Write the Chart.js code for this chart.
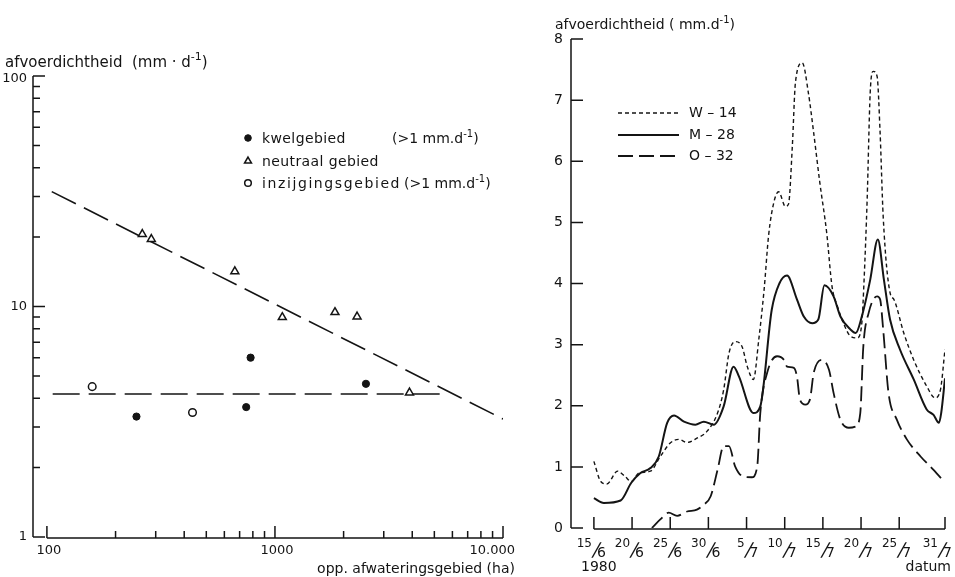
<!DOCTYPE html>
<html><head><meta charset="utf-8">
<script src="https://cdn.jsdelivr.net/npm/chart.js@4/dist/chart.umd.min.js"></script>
<style>
html,body{margin:0;padding:0;background:#fff;}
#wrap{position:relative;width:955px;height:577px;overflow:hidden;}
#c1{position:absolute;left:0;top:0;}
#c2{position:absolute;left:520px;top:0;}
</style></head><body>
<div id="wrap">
<canvas id="c1" width="520" height="577"></canvas>
<canvas id="c2" width="435" height="577"></canvas>
</div>
<script>
// ---------- LEFT PANEL DATA ----------
const kwelArea = [247, 782, 748, 2506];
const kwelValue = [3.33, 6.0, 3.66, 4.62];
const neutraalArea = [262, 287, 667, 1077, 1833, 2291, 3890];
const neutraalValue = [20.6, 19.6, 14.2, 8.98, 9.44, 9.04, 4.23];
const inzijgingArea = [158, 435];
const inzijgingValue = [4.49, 3.47];
const trendArea = [105, 10000];
const trendValue = [31.5, 3.25];
const levelArea = [106, 5500];
const levelValue = [4.17, 4.17];
const leftXTicks = [100,200,300,400,500,600,700,800,900,1000,2000,3000,4000,5000,6000,7000,8000,9000,10000];
const leftXMajor = [100, 1000, 10000];
const leftXLabels = ['100', '1000', '10.000'];
const leftYTicks = [1,2,3,4,5,6,7,8,9,10,20,30,40,50,60,70,80,90,100];
const leftYMajor = [1, 10, 100];
const leftYLabels = ['1', '10', '100'];
const legendLeft = ['kwelgebied', 'neutraal gebied', 'inzijgingsgebied'];

// ---------- RIGHT PANEL DATA ----------
// day 0 = 15/6/1980
const w14Days = [0, 0.9, 1.7, 3.1, 4.1, 4.9, 5.9, 7.4, 8.7, 10.0, 11.1, 12.2, 13.5, 14.8, 16.2, 17.0, 17.7, 18.5, 19.4, 20.1, 20.9, 21.6, 22.3, 22.9, 23.6, 24.2, 25.1, 25.5, 26.0, 26.4, 27.3, 28.1, 28.8, 29.6, 30.5, 31.2, 31.9, 32.7, 33.6, 34.5, 35.1, 35.4, 35.8, 36.2, 36.6, 37.1, 37.5, 37.9, 38.8, 39.3, 40.6, 41.9, 43.6, 44.7, 45.4, 46];
const w14Values = [1.09, 0.76, 0.72, 0.93, 0.84, 0.76, 0.90, 0.93, 1.17, 1.39, 1.45, 1.40, 1.47, 1.58, 1.88, 2.26, 2.86, 3.05, 2.97, 2.64, 2.43, 3.08, 3.90, 4.80, 5.34, 5.50, 5.26, 5.30, 6.25, 7.28, 7.61, 7.12, 6.46, 5.65, 4.83, 3.95, 3.63, 3.35, 3.14, 3.11, 3.35, 4.06, 5.37, 7.12, 7.47, 7.39, 6.46, 5.10, 3.85, 3.74, 3.19, 2.75, 2.32, 2.13, 2.26, 2.92];
const m28Days = [0, 1.3, 3.5, 4.9, 6.1, 7.4, 8.5, 9.6, 10.5, 11.8, 13.3, 14.4, 15.7, 17.0, 18.3, 19.0, 20.9, 21.8, 23.3, 24.3, 25.3, 26.6, 27.5, 28.6, 29.4, 30.2, 31.4, 32.3, 33.6, 34.3, 35.1, 36.2, 37.2, 38.0, 38.8, 40.1, 41.9, 43.6, 44.5, 45.2, 45.5, 46];
const m28Values = [0.49, 0.41, 0.45, 0.74, 0.90, 0.98, 1.17, 1.72, 1.84, 1.74, 1.69, 1.74, 1.69, 1.99, 2.64, 2.48, 1.88, 1.99, 3.57, 4.0, 4.13, 3.74, 3.46, 3.35, 3.41, 3.97, 3.79, 3.46, 3.25, 3.19, 3.46, 4.06, 4.72, 4.06, 3.41, 2.92, 2.43, 1.94, 1.85, 1.72, 1.88, 2.45];
const o32Days = [7.6, 8.7, 9.8, 10.9, 12.2, 13.5, 14.4, 15.3, 16.2, 17.0, 17.7, 18.5, 19.6, 20.7, 21.4, 21.8, 22.7, 24.0, 24.9, 25.3, 26.2, 26.6, 27.0, 27.7, 28.3, 28.8, 29.9, 30.8, 31.4, 32.3, 33.4, 34.3, 34.9, 35.3, 36.0, 37.1, 37.5, 37.9, 38.6, 39.7, 41.0, 42.8, 44.5, 46];
const o32Values = [0, 0.14, 0.25, 0.20, 0.27, 0.30, 0.38, 0.52, 0.95, 1.34, 1.34, 1.01, 0.84, 0.83, 1.01, 1.88, 2.54, 2.81, 2.75, 2.64, 2.62, 2.48, 2.10, 2.02, 2.10, 2.54, 2.75, 2.59, 2.21, 1.77, 1.64, 1.66, 1.88, 2.97, 3.52, 3.79, 3.74, 3.25, 2.21, 1.77, 1.45, 1.17, 0.95, 0.74];
const rightXTicks = [0, 5, 10, 15, 20, 25, 30, 35, 40, 46];
const rightXNum = ['15', '20', '25', '30', '5', '10', '15', '20', '25', '31'];
const rightXDen = ['6', '6', '6', '6', '7', '7', '7', '7', '7', '7'];
const rightYTicks = [0, 1, 2, 3, 4, 5, 6, 7, 8];
const seriesNames = ['W – 14', 'M – 28', 'O – 32'];

const INK = '#141414';
const FAM = "'DejaVu Sans'";
function f(sz){ return sz + 'px ' + FAM; }

function rich(ctx, x, y, parts, size, align){
  // parts: [text, sup?]
  let w = 0;
  const sup = Math.round(size*0.72);
  parts.forEach(p => { ctx.font = f(p[1] ? sup : size); w += ctx.measureText(p[0]).width; });
  let cx = align === 'right' ? x - w : x;
  ctx.textAlign = 'left';
  ctx.textBaseline = 'alphabetic';
  parts.forEach(p => {
    ctx.font = f(p[1] ? sup : size);
    ctx.fillText(p[0], cx, p[1] ? y - size*0.45 : y);
    cx += ctx.measureText(p[0]).width;
  });
}
function zip(a, b){ return a.map((v, i) => ({x: v, y: b[i]})); }

// ---------- LEFT CHART ----------
const leftPlugin = {
  id: 'leftAxes',
  beforeDatasetsDraw(chart){
    const ctx = chart.ctx, xs = chart.scales.x, ys = chart.scales.y, ca = chart.chartArea;
    ctx.save();
    ctx.strokeStyle = INK; ctx.lineWidth = 1.5; ctx.lineCap = 'butt';
    ctx.beginPath();
    ctx.moveTo(ca.left, ys.getPixelForValue(100));
    ctx.lineTo(ca.left, ys.getPixelForValue(1));
    leftYTicks.forEach(v => {
      const y = ys.getPixelForValue(v);
      const len = leftYMajor.includes(v) ? 12 : 7;
      ctx.moveTo(ca.left, y); ctx.lineTo(ca.left + len, y);
    });
    const by = ys.getPixelForValue(1) + 1;
    ctx.moveTo(xs.getPixelForValue(100), by);
    ctx.lineTo(xs.getPixelForValue(10000), by);
    leftXTicks.forEach(v => {
      const x = xs.getPixelForValue(v);
      const len = leftXMajor.includes(v) ? 12 : 7;
      ctx.moveTo(x, by); ctx.lineTo(x, by - len);
    });
    ctx.stroke();
    ctx.restore();
  },
  afterDraw(chart){
    const ctx = chart.ctx, xs = chart.scales.x, ys = chart.scales.y, ca = chart.chartArea;
    ctx.save();
    ctx.fillStyle = INK;
    ctx.font = f(13);
    ctx.textBaseline = 'middle';
    ctx.textAlign = 'right';
    leftYMajor.forEach((v, i) => ctx.fillText(leftYLabels[i], ca.left - 6, ys.getPixelForValue(v) + (v === 100 ? 3 : 0)));
    leftXMajor.forEach((v, i) => {
      const x = xs.getPixelForValue(v);
      if (i === leftXMajor.length - 1) { ctx.textAlign = 'right'; ctx.fillText(leftXLabels[i], 515, 551); }
      else { ctx.textAlign = 'center'; ctx.fillText(leftXLabels[i], x + 2, 551); }
    });
    // axis titles
    rich(ctx, 5, 67, [['afvoerdichtheid  (mm · d'], ['-1', true], [')']], 15, 'left');
    rich(ctx, 515, 573, [['opp. afwateringsgebied (ha)']], 14, 'right');
    // legend
    const rows = [143, 166, 188];
    const ds = chart.data.datasets;
    [0, 1, 2].forEach(i => {
      const d = ds[i];
      ctx.fillStyle = d.pointBackgroundColor; ctx.strokeStyle = d.pointBorderColor;
      ctx.lineWidth = d.pointBorderWidth;
      Chart.helpers.drawPoint(ctx, {pointStyle: d.pointStyle, radius: i === 1 ? 4 : 3.3, rotation: 0, borderWidth: d.pointBorderWidth}, 248, rows[i] - 5);
      ctx.fillStyle = INK;
      ctx.letterSpacing = i === 2 ? '1.6px' : '0.4px';
      rich(ctx, 262, rows[i], [[legendLeft[i]]], 14, 'left');
      ctx.letterSpacing = '0px';
    });
    rich(ctx, 392, rows[0], [['(>1 mm.d'], ['-1', true], [')']], 14, 'left');
    rich(ctx, 404, rows[2], [['(>1 mm.d'], ['-1', true], [')']], 14, 'left');
    ctx.restore();
  }
};

new Chart(document.getElementById('c1'), {
  type: 'scatter',
  data: {
    datasets: [
      {label: 'kwelgebied', data: zip(kwelArea, kwelValue), pointStyle: 'circle', pointRadius: 3.6, pointBackgroundColor: INK, pointBorderColor: INK, pointBorderWidth: 1},
      {label: 'neutraal gebied', data: zip(neutraalArea, neutraalValue), pointStyle: 'triangle', pointRadius: 4.6, pointBackgroundColor: '#fff', pointBorderColor: INK, pointBorderWidth: 1.5},
      {label: 'inzijgingsgebied', data: zip(inzijgingArea, inzijgingValue), pointStyle: 'circle', pointRadius: 3.8, pointBackgroundColor: '#fff', pointBorderColor: INK, pointBorderWidth: 1.5},
      {type: 'line', label: 'trend', data: zip(trendArea, trendValue), borderColor: INK, borderWidth: 1.6, borderDash: [27, 9], pointRadius: 0, showLine: true, order: 5},
      {type: 'line', label: 'niveau', data: zip(levelArea, levelValue), borderColor: INK, borderWidth: 1.6, borderDash: [27, 9], pointRadius: 0, showLine: true, order: 5}
    ]
  },
  options: {
    responsive: false, animation: false, devicePixelRatio: 1,
    layout: {padding: {left: 33, right: 17, top: 76, bottom: 40}},
    scales: {
      x: {type: 'logarithmic', min: 86.9, max: 10000, display: false},
      y: {type: 'logarithmic', min: 1, max: 100, display: false}
    },
    plugins: {legend: {display: false}, tooltip: {enabled: false}},
    elements: {line: {tension: 0}}
  },
  plugins: [leftPlugin]
});

// ---------- RIGHT CHART ----------
const rightPlugin = {
  id: 'rightAxes',
  beforeDatasetsDraw(chart){
    const ctx = chart.ctx, xs = chart.scales.x, ys = chart.scales.y, ca = chart.chartArea;
    ctx.save();
    ctx.strokeStyle = INK; ctx.lineWidth = 1.5;
    ctx.beginPath();
    ctx.moveTo(ca.left, ys.getPixelForValue(8));
    ctx.lineTo(ca.left, ys.getPixelForValue(0));
    rightYTicks.forEach(v => {
      const y = ys.getPixelForValue(v);
      ctx.moveTo(ca.left, y); ctx.lineTo(ca.left + 12, y);
    });
    const by = ys.getPixelForValue(0) + 1;
    ctx.moveTo(xs.getPixelForValue(0), by);
    ctx.lineTo(xs.getPixelForValue(46), by);
    rightXTicks.forEach(v => {
      const x = xs.getPixelForValue(v);
      ctx.moveTo(x, by); ctx.lineTo(x, by - 12);
    });
    ctx.stroke();
    ctx.restore();
  },
  afterDraw(chart){
    const ctx = chart.ctx, xs = chart.scales.x, ys = chart.scales.y, ca = chart.chartArea;
    ctx.save();
    ctx.fillStyle = INK;
    ctx.font = f(14);
    ctx.textAlign = 'right'; ctx.textBaseline = 'middle';
    rightYTicks.forEach(v => ctx.fillText(String(v), ca.left - 8, ys.getPixelForValue(v)));
    // fraction date labels
    ctx.textBaseline = 'alphabetic';
    rightXTicks.forEach((v, i) => {
      const x = xs.getPixelForValue(v) - (i === rightXTicks.length - 1 ? 5 : 0);
      ctx.font = f(12); ctx.textAlign = 'right';
      ctx.fillText(rightXNum[i], x - 2, 547);
      ctx.save();
      ctx.translate(x + 1, 556);
      ctx.transform(1, 0, -0.25, 1, 0, 0);
      ctx.font = f(19); ctx.textAlign = 'center';
      ctx.fillText('/', 0, 0);
      ctx.restore();
      ctx.font = f(14); ctx.textAlign = 'left';
      ctx.fillText(rightXDen[i], x + 3, 557);
    });
    ctx.font = f(14); ctx.textAlign = 'left';
    ctx.fillText('1980', 581 - 520, 571);
    ctx.textAlign = 'right';
    ctx.fillText('datum', 951 - 520, 571);
    rich(ctx, 555 - 520, 29, [['afvoerdichtheid ( mm.d'], ['-1', true], [')']], 14, 'left');
    // legend
    const rows = [113, 135, 156];
    chart.data.datasets.forEach((d, i) => {
      ctx.strokeStyle = d.borderColor; ctx.lineWidth = d.borderWidth;
      ctx.setLineDash(d.borderDash || []);
      ctx.beginPath(); ctx.moveTo(618 - 520, rows[i]); ctx.lineTo(679 - 520, rows[i]); ctx.stroke();
      ctx.setLineDash([]);
      ctx.font = f(14); ctx.textAlign = 'left'; ctx.textBaseline = 'middle'; ctx.fillStyle = INK;
      ctx.fillText(seriesNames[i], 689 - 520, rows[i]);
    });
    ctx.restore();
  }
};

new Chart(document.getElementById('c2'), {
  type: 'line',
  data: {
    datasets: [
      {label: seriesNames[0], data: zip(w14Days, w14Values), borderColor: INK, borderWidth: 1.4, borderDash: [4, 3]},
      {label: seriesNames[1], data: zip(m28Days, m28Values), borderColor: INK, borderWidth: 2},
      {label: seriesNames[2], data: zip(o32Days, o32Values), borderColor: INK, borderWidth: 1.8, borderDash: [15, 6]}
    ]
  },
  options: {
    responsive: false, animation: false, devicePixelRatio: 1,
    layout: {padding: {left: 51, right: 10, top: 39, bottom: 49}},
    scales: {
      x: {type: 'linear', min: -3, max: 46, display: false},
      y: {type: 'linear', min: 0, max: 8, display: false}
    },
    elements: {point: {radius: 0}, line: {tension: 0.4, cubicInterpolationMode: 'monotone', fill: false}},
    plugins: {legend: {display: false}, tooltip: {enabled: false}}
  },
  plugins: [rightPlugin]
});
</script>
</body></html>
